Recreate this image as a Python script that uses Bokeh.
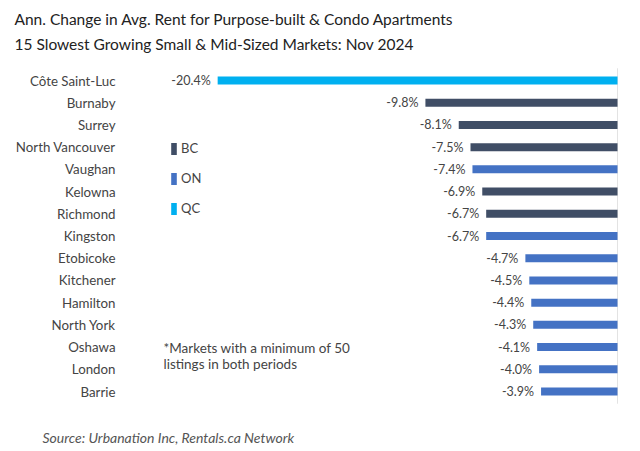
from bokeh.plotting import figure
from bokeh.models import ColumnDataSource, Label, Legend, LegendItem, Range1d
from bokeh.core.properties import value
from bokeh.embed import file_html
from bokeh.resources import INLINE

markets = ["Côte Saint-Luc", "Burnaby", "Surrey", "North Vancouver", "Vaughan",
           "Kelowna", "Richmond", "Kingston", "Etobicoke", "Kitchener",
           "Hamilton", "North York", "Oshawa", "London", "Barrie"]
changes = [-20.4, -9.8, -8.1, -7.5, -7.4, -6.9, -6.7, -6.7, -4.7, -4.5,
           -4.4, -4.3, -4.1, -4.0, -3.9]
provinces = ["QC", "BC", "BC", "BC", "ON", "BC", "BC", "ON", "ON", "ON",
             "ON", "ON", "ON", "ON", "ON"]
region_names = ["BC", "ON", "QC"]
region_colors = ["#404e66", "#4472c4", "#00b0f0"]

title1 = "Ann. Change in Avg. Rent for Purpose-built & Condo Apartments"
title2 = "15 Slowest Growing Small & Mid-Sized Markets: Nov 2024"
footnote = ["*Markets with a minimum of 50", "listings in both periods"]
source_text = "Source: Urbanation Inc, Rentals.ca Network"

FONT = "Lato"
W, H = 640, 451
# layout: pixels per unit and pixel position of zero / first & last rows
PX_PER_UNIT = 19.6
ZERO_PX = 617
TOP_ROW_PX, BOT_ROW_PX = 80, 391
n = len(markets)
row_px = (BOT_ROW_PX - TOP_ROW_PX) / (n - 1)
ypos = [n - 1 - i for i in range(n)]

x_start = -ZERO_PX / PX_PER_UNIT
x_end = (W - ZERO_PX) / PX_PER_UNIT
y_end = (n - 1) + TOP_ROW_PX / row_px
y_start = y_end - H / row_px

def px_to_x(px):
    return x_start + px / PX_PER_UNIT

p = figure(width=W, height=H, output_backend="svg", toolbar_location=None,
           x_range=Range1d(x_start, x_end), y_range=Range1d(y_start, y_end),
           min_border=0, x_axis_location=None, y_axis_location=None)
p.outline_line_color = None
p.background_fill_color = "white"
p.border_fill_color = "white"
p.grid.visible = False

# zero line
p.segment(x0=[0], y0=[-0.55], x1=[0], y1=[n - 1 + 0.55], line_color="#e3e3e3",
          line_width=1)

items = []
for name, col in zip(region_names, region_colors):
    idx = [i for i, pr in enumerate(provinces) if pr == name]
    src = ColumnDataSource(dict(y=[ypos[i] for i in idx], v=[changes[i] for i in idx]))
    r = p.hbar(y="y", right=0, left="v", height=8 / row_px, source=src,
               fill_color=col, line_color=None)
    items.append(LegendItem(label=name, renderers=[r]))

lab_src = ColumnDataSource(dict(y=ypos, v=changes, m=markets,
                                cx=[px_to_x(115)] * n,
                                t=["%.1f%%" % c for c in changes]))
p.text(x="v", y="y", text="t", source=lab_src, x_offset=-7,
       text_align="right", text_baseline="middle",
       text_font=value(FONT), text_font_size="12.5px", text_color="#444444")
p.text(x="cx", y="y", text="m", source=lab_src,
       text_align="right", text_baseline="middle",
       text_font=value(FONT), text_font_size="13.3px", text_color="#444444")

legend = Legend(items=items, location=(170, H - 216), orientation="vertical",
                glyph_width=7, glyph_height=15, label_height=15,
                label_standoff=4, spacing=14, padding=0, margin=0,
                border_line_color=None, background_fill_alpha=0,
                label_text_font=FONT, label_text_font_size="13px",
                label_text_color="#444444", label_text_baseline="top")
p.add_layout(legend)

for txt, yy in ((title1, 18), (title2, 43)):
    p.add_layout(Label(x=14, y=H - yy, x_units="screen", y_units="screen",
                       text=txt, text_font=FONT, text_font_size="15.5px",
                       text_color="#222222", text_baseline="middle",
                       text_align="left"))
for txt, yy in zip(footnote, (347, 363)):
    p.add_layout(Label(x=163, y=H - yy, x_units="screen", y_units="screen",
                       text=txt, text_font=FONT, text_font_size="13.5px",
                       text_color="#444444", text_baseline="middle",
                       text_align="left"))
p.add_layout(Label(x=42, y=H - 437, x_units="screen", y_units="screen",
                   text=source_text, text_font=FONT, text_font_style="italic",
                   text_font_size="14px", text_color="#555555",
                   text_baseline="middle", text_align="left"))

open("out.html", "w").write(file_html(p, INLINE))
